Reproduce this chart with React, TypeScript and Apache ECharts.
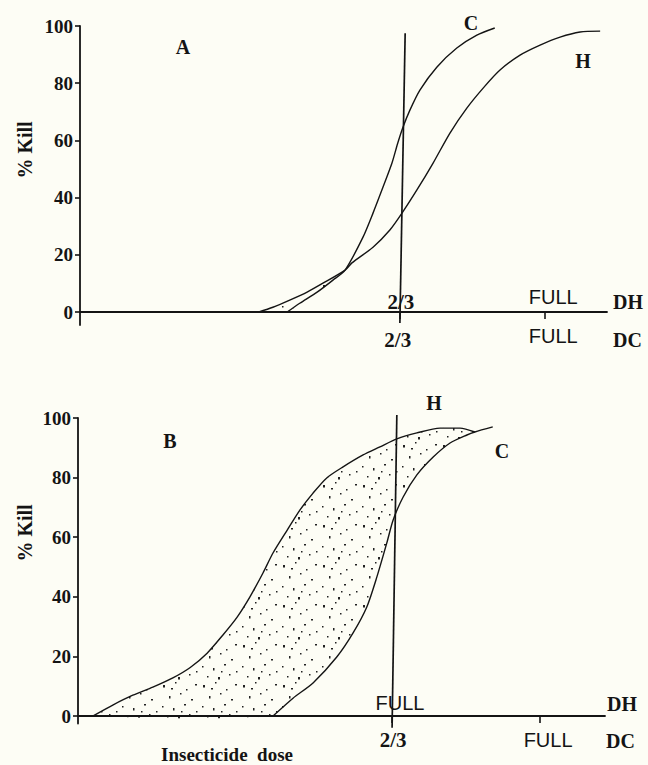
import React, { useEffect, useRef } from 'react';
import * as echarts from 'echarts';

// ---------- data ----------
const yTicks = [0, 20, 40, 60, 80, 100];

// Panel A (x: dose scale 0..100 across the axis, y: % kill)
const aH = [[33.8, 0], [36.6, 1.7], [39.8, 4.2], [43.1, 7.0], [46.1, 10.1], [50.3, 14.7], [51.6, 17.2], [55.6, 22.7], [58.8, 28.7], [61.1, 34.6], [63.9, 42.6], [67.0, 52.1], [70.2, 62.6], [73.4, 71.3], [76.5, 78.3], [79.7, 84.6], [83.5, 89.8], [87.3, 93.3], [91.1, 96.1], [94.9, 97.9], [98.7, 98.2]];
const aC = [[39.3, 0], [41.7, 3.1], [45.0, 7.0], [48.0, 11.2], [50.3, 14.7], [53.7, 26.2], [55.6, 34.6], [57.5, 43.7], [59.2, 52.1], [60.3, 59.1], [61.3, 64.7], [62.6, 70.6], [64.5, 77.6], [67.7, 85.6], [71.5, 92.3], [75.3, 96.8], [78.7, 99.3]];
const aVertical = [[61.7, 97.5], [60.7, -3.8]];
const aDcTicks = [60.7, 88.2];
const aDcLabelPos = [60.3, 89.8];
const aDcLabels = ['2/3', 'FULL'];
const aDhLabelPos = [60.9, 89.8];
const aDhLabels = ['2/3', 'FULL'];
const aShadeH = 6; // H points up to junction
const aShadeC = 5; // C points up to junction

// Panel B
const bH = [[2.8, 0], [6.6, 3.7], [10.4, 7.0], [14.2, 9.7], [18.0, 12.8], [21.3, 16.3], [24.5, 21.1], [27.5, 27.2], [30.2, 33.2], [32.6, 39.9], [35.1, 48.0], [37.0, 54.7], [39.7, 62.4], [42.1, 69.1], [44.6, 74.8], [47.2, 79.9], [50.3, 83.6], [54.1, 87.6], [57.3, 90.3], [60.5, 93.0], [64.3, 95.0], [68.7, 96.6], [72.5, 96.6], [75.3, 95.3]];
const bC = [[37.0, 0], [40.8, 6.0], [44.6, 11.1], [49.1, 19.8], [52.2, 27.9], [54.8, 36.6], [56.7, 46.6], [58.6, 58.1], [59.8, 65.8], [61.7, 73.5], [64.3, 80.9], [67.4, 86.9], [70.6, 91.6], [73.8, 94.3], [75.3, 95.3], [78.7, 97.0]];
const bVertical = [[60.5, 101], [59.6, -3.9]];
const bDcTicks = [59.6, 87.7];
const bDcLabelPos = [59.8, 89.2];
const bDcLabels = ['2/3', 'FULL'];
const bDhLabelPos = [61.1];
const bDhLabels = ['FULL'];
const bShadeH = 24;
const bShadeC = 15;

// ---------- styles ----------
const serif = '"Liberation Serif", "Times New Roman", serif';
const sans = '"Liberation Sans", Arial, sans-serif';
const ink = '#141414';
const bg = '#fdfdf5';

function makePattern() {
  const c = document.createElement('canvas');
  c.width = 40;
  c.height = 40;
  const ctx = c.getContext('2d')!;
  ctx.fillStyle = '#222';
  const dots = [[3, 5], [15, 2], [26, 9], [35, 4], [9, 16], [20, 13], [31, 19], [2, 26], [13, 28], [24, 24], [36, 31], [7, 36], [18, 37], [29, 34], [21, 31], [11, 8]];
  dots.forEach(([x, y], i) => {
    ctx.fillRect(x, y, i % 3 === 0 ? 2 : 1.5, i % 4 === 0 ? 2.5 : 1.5);
  });
  return { image: c, repeat: 'repeat' } as any;
}

function labelFormatter(pos: number[], texts: string[]) {
  return (v: number) => {
    let best = 0;
    pos.forEach((p, i) => {
      if (Math.abs(p - v) < Math.abs(pos[best] - v)) best = i;
    });
    const t = texts[best];
    return t === 'FULL' ? '{f|FULL}' : '{n|' + t + '}';
  };
}

function xAxesFor(grid: number, dcTicks: number[], dcPos: number[], dcTexts: string[], dhPos: number[], dhTexts: string[], dc: any, dh: any) {
  return [
    {
      type: 'value', gridIndex: grid, position: 'bottom', min: 0, max: 100, z: 10,
      axisLine: { show: true, onZero: true, lineStyle: { color: ink, width: 1.8 } },
      axisTick: { show: true, customValues: dcTicks, length: 7, lineStyle: { color: ink, width: 1.6 } },
      splitLine: { show: false },
      axisLabel: {
        show: true, customValues: dcPos, margin: dc.margin, formatter: labelFormatter(dcPos, dcTexts),
        rich: {
          n: { fontFamily: serif, fontWeight: 'bold', fontSize: 21, color: ink, padding: dc.nPad },
          f: { fontFamily: sans, fontSize: 20, color: ink, padding: dc.fPad },
        },
      },
      name: 'DC', nameLocation: 'end', nameGap: dc.nameGap,
      nameTextStyle: { fontFamily: serif, fontWeight: 'bold', fontSize: 20, color: ink, verticalAlign: 'top', padding: [dc.namePad, 0, 0, 0] },
    },
    {
      type: 'value', gridIndex: grid, position: 'bottom', min: 0, max: 100,
      axisLine: { show: false, onZero: true },
      axisTick: { show: false },
      splitLine: { show: false },
      axisLabel: {
        show: true, inside: true, customValues: dhPos, margin: dh.margin, formatter: labelFormatter(dhPos, dhTexts),
        rich: {
          n: { fontFamily: serif, fontWeight: 'bold', fontSize: 21, color: ink, padding: dh.nPad },
          f: { fontFamily: sans, fontSize: 20, color: ink, padding: dh.fPad },
        },
      },
    },
  ];
}

function yAxisFor(grid: number, min: number) {
  return {
    type: 'value', gridIndex: grid, min, max: 100,
    axisLine: { show: true, onZero: false, lineStyle: { color: ink, width: 1.8 } },
    axisTick: { show: true, customValues: yTicks, length: 5, lineStyle: { color: ink, width: 1.6 } },
    splitLine: { show: false },
    axisLabel: { show: true, customValues: yTicks, margin: 7, fontFamily: serif, fontWeight: 'bold', fontSize: 19, color: ink },
  };
}

function curve(data: number[][], xi: number, yi: number, width = 1.4) {
  return {
    type: 'line', data, xAxisIndex: xi, yAxisIndex: yi, smooth: 0.25, symbol: 'none', z: 5,
    lineStyle: { color: ink, width }, silent: true, clip: false,
  };
}

function shade(poly: number[][], xi: number, yi: number, pattern: any) {
  return {
    type: 'custom', xAxisIndex: xi, yAxisIndex: yi, data: [[0, 0]], z: 3, silent: true,
    renderItem: (_p: any, api: any) => ({
      type: 'polygon',
      shape: { points: poly.map((p) => api.coord(p)), smooth: 0.25 },
      style: { fill: pattern, stroke: 'none' },
    }),
  };
}

export default function App() {
  const ref = useRef<HTMLDivElement>(null);
  useEffect(() => {
    document.body.style.margin = '0';
    document.body.style.background = bg;
    const chart = echarts.init(ref.current!, null, { renderer: 'svg' });
    const pattern = makePattern();
    const aPoly = [...aH.slice(0, aShadeH), ...aC.slice(0, aShadeC).reverse()];
    const bPoly = [...bH.slice(0, bShadeH), ...bC.slice(0, bShadeC).reverse()];
    const textStyle = (t: string, size = 20, align = 'center') => ({ text: t, font: 'bold ' + size + 'px ' + serif, fill: ink, align, verticalAlign: 'middle' });
    chart.setOption({
      animation: false,
      backgroundColor: bg,
      grid: [
        { left: 80, top: 26, width: 527, height: 299 },
        { left: 78, top: 418, width: 527, height: 305.5 },
      ],
      xAxis: [
        ...xAxesFor(0, aDcTicks, aDcLabelPos, aDcLabels, aDhLabelPos, aDhLabels,
          { margin: 1, nPad: [3, 0, 0, 0], fPad: [0, 0, 0, 0], nameGap: 6, namePad: 18 },
          { margin: 13, nPad: [0, 0, 0, 0], fPad: [0, 0, 5.5, 0] }),
        ...xAxesFor(1, bDcTicks, bDcLabelPos, bDcLabels, bDhLabelPos, bDhLabels,
          { margin: 6, nPad: [0, 0, 0, 0], fPad: [0, 0, 0, 0], nameGap: 1, namePad: 15 },
          { margin: 10.5, nPad: [0, 0, 0, 0], fPad: [0, 0, 0, 0] }),
      ],
      yAxis: [yAxisFor(0, -4.5), yAxisFor(1, -2.5)],
      series: [
        shade(aPoly, 0, 0, pattern),
        curve(aH, 0, 0),
        curve(aC, 0, 0),
        { ...curve(aVertical, 0, 0, 1.7), smooth: false },
        shade(bPoly, 2, 1, pattern),
        curve(bH, 2, 1),
        curve(bC, 2, 1),
        { ...curve(bVertical, 2, 1, 1.7), smooth: false },
      ],
      graphic: [
        { type: 'text', x: 25, y: 150, rotation: Math.PI / 2, style: textStyle('% Kill', 20) },
        { type: 'text', x: 25, y: 533, rotation: Math.PI / 2, style: textStyle('% Kill', 20) },
        { type: 'text', x: 183, y: 47, style: textStyle('A') },
        { type: 'text', x: 471, y: 23, style: textStyle('C') },
        { type: 'text', x: 583, y: 61, style: textStyle('H') },
        { type: 'text', x: 613, y: 302, style: textStyle('DH', 20, 'left') },
        { type: 'text', x: 170, y: 441, style: textStyle('B') },
        { type: 'text', x: 434, y: 403, style: textStyle('H') },
        { type: 'text', x: 502, y: 451, style: textStyle('C') },
        { type: 'text', x: 607, y: 704, style: textStyle('DH', 20, 'left') },
        { type: 'text', x: 227, y: 754, style: textStyle('Insecticide  dose', 19) },
      ],
    });
    return () => chart.dispose();
  }, []);
  return <div ref={ref} style={{ width: 648, height: 765, background: bg }} />;
}
